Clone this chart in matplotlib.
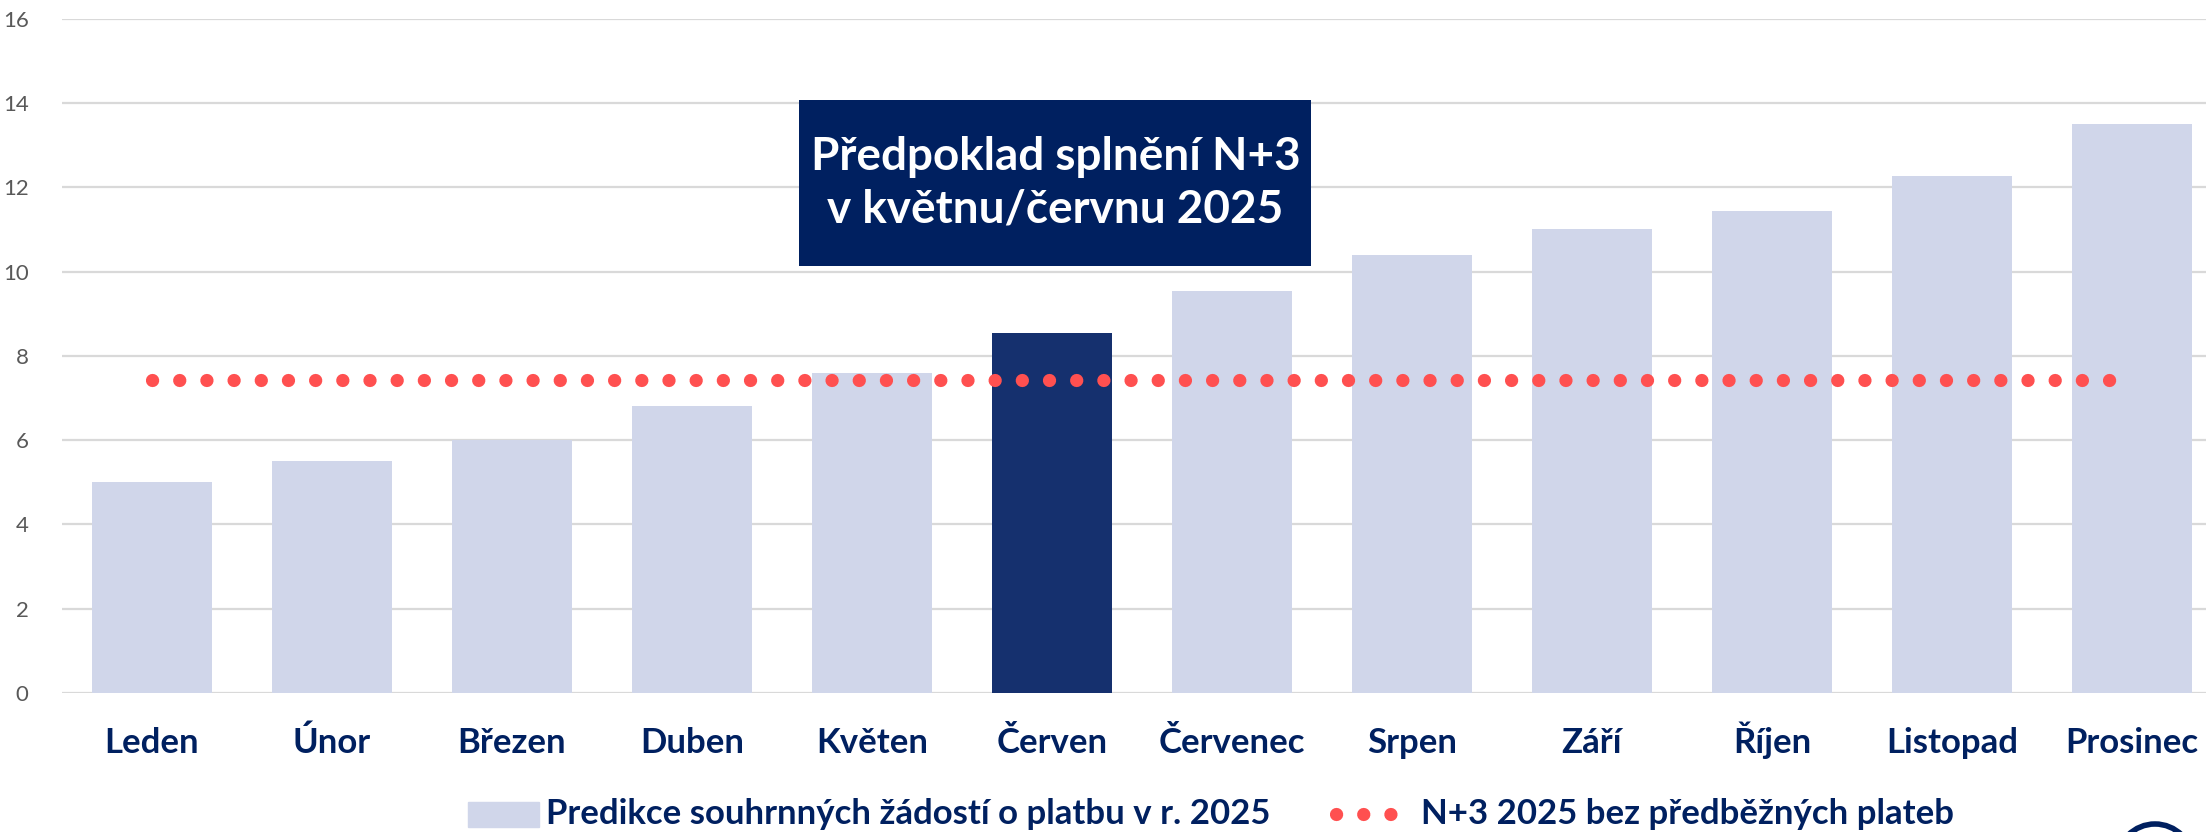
import matplotlib
matplotlib.use("Agg")
import matplotlib.pyplot as plt
from matplotlib.patches import Rectangle, Circle

months = ["Leden", "Únor", "Březen", "Duben", "Květen", "Červen",
          "Červenec", "Srpen", "Září", "Říjen", "Listopad", "Prosinec"]
requests = [5.0, 5.5, 6.0, 6.8, 7.6, 8.53, 9.53, 10.4, 11.0, 11.43, 12.27, 13.5]
n3_level = [7.43] * len(months)
highlight = "Červen"

BAR_LIGHT = "#D0D6EA"
BAR_DARK = "#15306E"
NAVY = "#002060"
DOT_RED = "#FF5050"
GRID = "#D9D9D9"

W, H = 2206, 832

plt.rcParams["font.family"] = ["Lato", "DejaVu Sans"]

fig = plt.figure(figsize=(W / 100, H / 100), dpi=100)
ax = fig.add_axes([62 / W, 1 - 693 / H, 2160 / W, (693 - 18.6) / H])

x = list(range(len(months)))
colors = [BAR_DARK if m == highlight else BAR_LIGHT for m in months]
ax.bar(x, requests, width=0.667, color=colors, zorder=2)
ax.plot(x, n3_level, color=DOT_RED, lw=9.5, linestyle=(0, (0.01, 2.05)),
        dash_capstyle="round", zorder=3)

ax.set_xlim(-0.5, len(months) - 0.5)
ax.set_ylim(0, 16)
ax.set_yticks(range(0, 17, 2))
ax.yaxis.grid(True, color=GRID, lw=1.6, zorder=0)
ax.set_axisbelow(True)
for s in ax.spines.values():
    s.set_visible(False)
ax.tick_params(axis="y", length=0, pad=24, labelsize=16, labelcolor="#595959")
ax.tick_params(axis="x", length=0, pad=43)
ax.set_xticks(x)
ax.set_xticklabels(months, fontsize=25, fontweight="bold", color=NAVY)
for lbl in ax.get_xticklabels():
    lbl.set_verticalalignment("baseline")

# annotation box
ax.add_patch(Rectangle((3.594, 10.13), 6.439 - 3.594, 14.07 - 10.13,
                       facecolor=NAVY, edgecolor="none", zorder=5))
ax.text(5.02, 12.1, "Předpoklad splnění N+3\nv květnu/červnu 2025",
        ha="center", va="center", fontsize=33, fontweight="bold", color="white",
        linespacing=1.3, zorder=6)

# legend drawn by hand in figure coordinates
fig.patches.append(Rectangle((468 / W, 1 - 827 / H), 71 / W, 25 / H,
                             transform=fig.transFigure, color=BAR_LIGHT))
fig.text(546 / W, 1 - 814 / H, "Predikce souhrnných žádostí o platbu v r. 2025",
         fontsize=25, fontweight="bold", color=NAVY, va="center")
fig.add_artist(plt.Line2D([1336 / W, 1392 / W], [1 - 814 / H] * 2,
                          transform=fig.transFigure, color=DOT_RED, lw=9.5,
                          linestyle=(0, (0.01, 2.05)), dash_capstyle="round"))
fig.text(1421 / W, 1 - 814 / H, "N+3 2025 bez předběžných plateb",
         fontsize=25, fontweight="bold", color=NAVY, va="center")

# edge of the logo peeking in at the bottom right corner
fig.patches.append(Circle((2155, H - 862), 38, transform=None,
                          facecolor="none", edgecolor=NAVY, lw=4))

fig.savefig("out.png", dpi=100)
